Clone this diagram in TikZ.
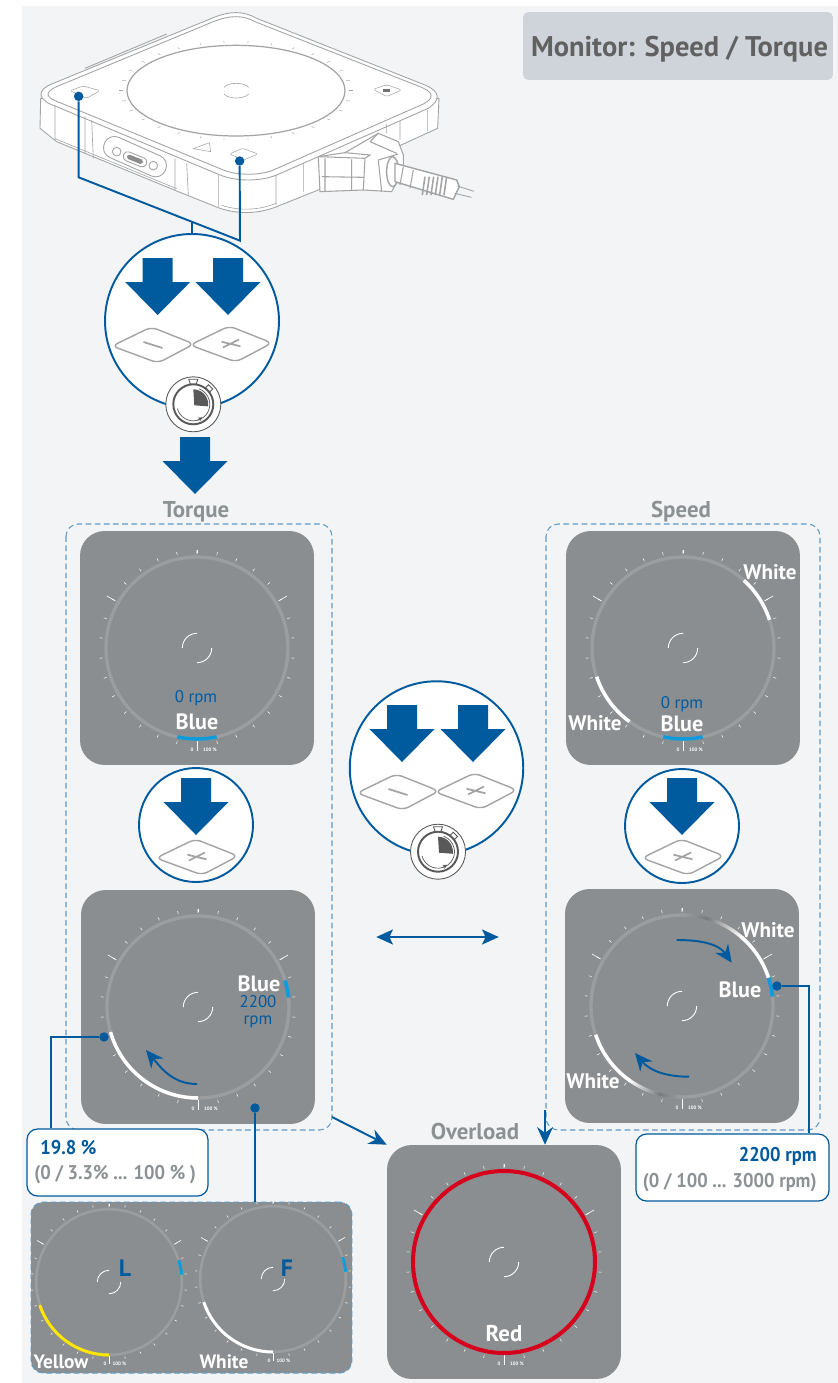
\documentclass[tikz,border=0pt]{standalone}
\usepackage{fontspec}
\setmainfont{PT Sans}
\usepackage{tikz}
\usetikzlibrary{calc,arrows.meta}

\definecolor{bluedark}{HTML}{005A9E}
\definecolor{bluelight}{HTML}{0F9BDC}
\definecolor{zoneblue}{HTML}{5F9CC8}
\definecolor{panelgray}{HTML}{8A8E90}
\definecolor{ringgray}{HTML}{9A9EA1}
\definecolor{fadegray}{HTML}{76787A}
\definecolor{labelgray}{HTML}{8C9194}
\definecolor{pagegray}{HTML}{F3F4F6}
\definecolor{titlegray}{HTML}{CED4DA}
\definecolor{edgegray}{HTML}{A2A4A6}
\definecolor{alarmred}{HTML}{D6001C}
\definecolor{warnyellow}{HTML}{FFE600}

\tikzset{
  panel/.style={fill=panelgray,rounded corners=14pt,minimum size=4.68cm,inner sep=0pt},
  pressdisc/.style={circle,draw=bluedark,line width=1.1pt,fill=white,inner sep=0pt},
  dot/.style={fill=bluedark,circle,inner sep=1.9pt},
  link/.style={draw=bluedark,line width=1.1pt},
  tipped/.style={link,-{Stealth[length=10pt,width=9pt]}},
  ringline/.style={line width=1.9pt},
  huebold/.style={font=\fontsize{12.6}{13}\selectfont\bfseries},
  whitetext/.style={huebold,text=white,inner sep=0pt},
  bluetext/.style={font=\fontsize{9.6}{10.5}\selectfont,text=bluedark,inner sep=0pt},
  headgray/.style={font=\fontsize{13}{14}\selectfont\bfseries,text=labelgray,inner sep=0pt},
  callbold/.style={font=\fontsize{11.3}{12}\selectfont\bfseries\addfontfeature{FakeStretch=0.93},inner sep=0pt},
  callout/.style={draw=bluedark,line width=.7pt,fill=white,rounded corners=6pt,inner sep=0pt},
  zone/.style={draw=zoneblue,dash pattern=on 3.2pt off 2pt,line width=.6pt,rounded corners=7pt},
  tiny/.style={font=\fontsize{2.8}{3}\selectfont\bfseries,text=white,inner sep=0pt},
  keyline/.style={draw=edgegray,line width=.8pt},
  body/.style={draw=edgegray,line width=.5pt},
  fatarrow/.pic={
    \fill[bluedark] (-15,0) -- (15,0) -- (15,24) -- (32.5,24) -- (0,57) -- (-32.5,24) -- (-15,24) -- cycle;
  },
  minuskey/.pic={
    \draw[keyline,rounded corners=3.5pt] (-41,1) -- (-1.7,-18) -- (41,-1) -- (5,18) -- cycle;
    \draw[keyline,line width=1pt] (-9.5,-3) -- (9.5,3);
  },
  pluskey/.pic={
    \draw[keyline,rounded corners=3.5pt] (-41,1) -- (-1.7,-18) -- (41,-1) -- (5,18) -- cycle;
    \draw[keyline,line width=1pt] (-9.5,-2.3) -- (9.5,2.3) (-8,3.5) -- (8,-4.5);
  },
  timer/.pic={
    \draw[draw=black!65,fill=white,line width=.5pt] (0,0) circle (27.5);
    \fill[black!65] (1,1) -- (-90:15) arc[start angle=-90,end angle=8,radius=15] -- cycle;
    \draw[black!65,line width=1.1pt] (0,0) circle (20);
    \draw[black!65,line width=.4pt] (165:16.5) arc[start angle=165,end angle=-70,radius=16.5];
    \draw[black!65,fill=white,line width=.5pt] (-4.5,-25) -- (4.5,-25) -- (3,-20.5) -- (-3,-20.5) -- cycle;
    \draw[black!65,fill=white,line width=.5pt,rotate=-45] (-3,-24.5) rectangle (3,-20.5);
    \draw[black!65,line width=.4pt,-{Stealth[length=2.5pt,width=2.5pt]}] (75:16.5) -- (55:16);
  },
  dial/.pic={
    \draw[ringgray,ringline] (0,0) circle (91);
    \foreach \a in {-78,-66,...,270} {
      \draw[white,line width=.3pt] (\a:95) -- (\a:98);
    }
    \draw[white,line width=.35pt] (-30:94) -- (-30:104) (-150:94) -- (-150:104) (-90:94) -- (-90:98);
    \draw[white,line width=.5pt] (90:93) -- (90:103);
    \draw[white,line width=.5pt] (-90:14.7) arc[start angle=-90,end angle=-180,radius=14.7];
    \draw[white,line width=.5pt] (0:14.7) arc[start angle=0,end angle=90,radius=14.7];
    \node at (-5,102) [tiny] {0};
    \node at (13,102) [tiny] {100 \%};
  }
}

\newcommand{\dialarc}[6][91]{\draw[shift={#2},#5,#6] (#3:#1) arc[start angle=#3,end angle=#4,radius=#1];}
\newcommand{\fadearc}[3]{%
  \foreach \t in {0,...,19} {
    \pgfmathsetmacro{\sa}{#2+\t*(#3-#2)/20}
    \pgfmathsetmacro{\ea}{#2+(\t+1.15)*(#3-#2)/20}
    \pgfmathsetmacro{\p}{\t<8 ? 100-\t*12.5 : 0}
    \pgfmathsetmacro{\q}{\t<8 ? 0 : (\t-7)*8.3}
    \ifdim\q pt>0pt
      \dialarc{#1}{\sa}{\ea}{white!\q!fadegray}{line width=1.9pt}
    \else
      \dialarc{#1}{\sa}{\ea}{ringgray!\p!fadegray}{line width=1.9pt}
    \fi
  }%
}

\begin{document}
\begin{tikzpicture}[x=0.02cm,y=-0.02cm]
  \useasboundingbox (0,0) rectangle (838,1383);
  \fill[pagegray] (22,6) rectangle (838,1383);

  \node (title) at (678,46) [fill=titlegray,rounded corners=3pt,minimum width=6.2cm,minimum height=1.36cm,inner sep=0pt] {};
  \node (titletext) at (679.5,49) [font=\fontsize{16.2}{17}\selectfont\bfseries,text=black!62,inner sep=0pt] {Monitor: Speed / Torque};

  % device, in the scale of a 3x crop
  \begin{scope}[shift={(20,0)},x=0.00667cm,y=-0.00667cm]
    \draw[body,fill=white] (62,295) -- (60,385) -- (110,425) -- (475,575) -- (600,625)
      .. controls (660,645) and (720,640) .. (770,620) -- (890,572) -- (1100,455) -- (1253,385) -- (1257,295) -- cycle;
    \draw[body,line width=.35pt] (105,416) -- (470,566) (605,616) .. controls (660,634) and (720,630) .. (768,610);
    \draw[body,fill=white] (95,252) -- (575,55) .. controls (630,32) and (670,32) .. (710,55) -- (1215,255)
      .. controls (1262,275) and (1262,300) .. (1225,325) -- (770,525) .. controls (720,545) and (650,545) .. (600,525)
      -- (110,320) .. controls (50,300) and (50,270) .. (95,252) -- cycle;
    \draw[body] (105,262) -- (580,65) .. controls (630,45) and (670,45) .. (705,65) -- (1205,262)
      .. controls (1242,278) and (1242,295) .. (1210,312) -- (760,510) .. controls (720,527) and (650,527) .. (610,510)
      -- (120,308) .. controls (75,292) and (75,278) .. (105,262) -- cycle;
    \draw[body] (195,205) -- (440,102);
    \draw[body,line width=.35pt] (105,315) -- (105,420) (195,350) -- (195,460) (215,360) -- (220,475)
      (465,475) -- (465,570) (500,490) -- (505,585) (595,525) -- (595,620) (768,525) -- (768,615)
      (850,490) -- (850,575) (1100,372) -- (1100,400) (1140,362) -- (1140,420) (1222,330) -- (1222,395);
    \draw[body,line width=.7pt] (648,272) ellipse (327 and 136);
    \draw[body,line width=.35pt] (612,262) .. controls (625,246) and (672,246) .. (686,262);
    \draw[body,line width=.35pt] (612,282) .. controls (625,298) and (672,298) .. (686,282);
    \foreach \a in {-84,-72,...,270} {
      \draw[body,line width=.25pt] ($(648,272)+(\a:338 and 144)$) -- ($(648,272)+(\a:350 and 150)$);
    }
    \draw[body,rounded corners=1pt,line width=.3pt] (150,272) -- (190,258) -- (240,272) -- (200,295) -- cycle;
    \draw[body,rounded corners=1pt,line width=.3pt] (628,462) -- (668,445) -- (714,462) -- (672,480) -- cycle;
    \draw[body,rounded corners=1pt,line width=.3pt] (1060,268) -- (1100,254) -- (1145,270) -- (1100,290) -- cycle;
    \fill[black!55] (1090,268) rectangle (1110,276);
    \draw[body,line width=.3pt] (520,446) -- (568,428) -- (572,455) -- cycle;
    \draw[body,rotate around={-24:(345,470)},rounded corners=6pt,line width=.5pt] (245,437) rectangle (445,503);
    \draw[body,line width=.5pt] (290,455) circle (13) (400,497) circle (13);
    \draw[body,rotate around={-22:(345,478)},rounded corners=2.5pt,line width=.5pt] (308,464) rectangle (382,492);
    \fill[black!45,rotate around={-22:(345,478)},rounded corners=1pt] (320,471) rectangle (370,485);
    % plug
    \draw[body,fill=white,line width=.6pt] (895,470) -- (975,458) -- (1075,400) -- (1135,425) -- (1150,465) -- (1150,510)
      -- (1115,575) -- (1030,570) -- (900,575) -- cycle;
    \draw[body,line width=.6pt] (895,470) -- (1035,475) -- (1030,570) (915,475) -- (915,575) (995,478) -- (995,572)
      (905,530) -- (1030,532) (975,458) -- (1050,465) -- (1035,475) (1050,425) -- (1075,400) (1050,425) -- (1130,460)
      (1075,480) -- (1085,575) (1075,480) -- (1135,462);
    \draw[body,fill=white,line width=.8pt] (1118,515) ellipse (18 and 45);
    \draw[body,fill=white,line width=.8pt] (1125,490) -- (1310,540) -- (1318,560) -- (1300,598) -- (1125,545) -- cycle;
    \draw[body,line width=.6pt] (1150,500) -- (1140,555) (1180,510) -- (1170,565);
    \foreach \x in {1215,1228,...,1280} {
      \draw[body,line width=.9pt] (\x,530) -- (\x-8,585);
    }
    \draw[body] (1312,558) -- (1362,574) (1304,580) -- (1354,592);
    \node (dotminus) at (176,289) [dot] {};
    \node (dotplus) at (659,483) [dot] {};
    \coordinate (bendminus) at (176,532);
    \coordinate (bendplus) at (660,722);
  \end{scope}

  % zones
  \draw[zone] (66,524) rectangle (332,1130);
  \draw[zone] (546,524) rectangle (820,1130);

  \node (torquelabel) at (196,512) [headgray] {Torque};
  \node (speedlabel) at (681,512) [headgray] {Speed};
  \node (overloadlabel) at (475,1131) [headgray] {Overload};

  % press discs
  \coordinate (joinbar) at (192,222);
  \node (discstart) at (192,321) [pressdisc,minimum size=3.48cm] {};
  \node (disccentre) at (436.5,768) [pressdisc,minimum size=3.47cm] {};
  \node (disctorque) at (196,825) [pressdisc,minimum size=2.28cm] {};
  \node (discspeed) at (682,826) [pressdisc,minimum size=2.28cm] {};

  \draw[link] (dotminus) to (bendminus) to (bendplus) to (dotplus);
  \draw[link] (joinbar) to (discstart.north);

  \pic at (157.7,258) {fatarrow};
  \pic at (228,258) {fatarrow};
  \pic at (195,437) {fatarrow};
  \pic at (402,705) {fatarrow};
  \pic at (473,705) {fatarrow};
  \pic at (196,778) {fatarrow};
  \pic at (682,778) {fatarrow};

  \pic at (153,345) {minuskey};
  \pic at (231,344) {pluskey};
  \pic at (398,792) {minuskey};
  \pic at (476,791) {pluskey};
  \pic at (197,857) {pluskey};
  \pic at (683,857) {pluskey};

  \pic at (193.3,404.3) {timer};
  \pic at (438,851.7) {timer};

  \node (doubleleft) at (375,937) [inner sep=0pt] {};
  \node (doubleright) at (500,937) [inner sep=0pt] {};
  \draw[link,{Stealth[length=9.5pt,width=8.5pt,inset=2pt]}-{Stealth[length=9.5pt,width=8.5pt,inset=2pt]}] (doubleleft) to (doubleright);

  % dial panels
  \node (torquezero) at (197,648) [panel] {};
  \node (torquerun) at (198,1007) [panel] {};
  \node (speedzero) at (683,648) [panel] {};
  \node (speedrun) at (682,1006) [panel] {};
  \node (overload) at (504,1262) [panel] {};
  \node (loadpanel) at (191.5,1287.5) [fill=panelgray,draw=zoneblue,dash pattern=on 3.2pt off 2pt,line width=.6pt,rounded corners=7pt,minimum width=6.42cm,minimum height=3.42cm,inner sep=0pt] {};

  \pic at (197,648) {dial};
  \pic at (198,1007) {dial};
  \pic at (683,648) {dial};
  \pic at (682,1006) {dial};
  \pic at (504,1262) {dial};
  \begin{scope}[ringline/.style={line width=1.5pt}]
    \pic[scale=.8] at (109,1282) {dial};
    \pic[scale=.8] at (273,1279) {dial};
  \end{scope}

  % coloured stretches of the rings
  \dialarc{(197,648)}{77.5}{102.5}{bluelight}{line width=2pt}
  \dialarc{(198,1007)}{90}{164}{white}{line width=2pt}
  \dialarc{(198,1007)}{-17}{-6}{bluelight}{line width=2.2pt}
  \dialarc{(683,648)}{77.5}{102.5}{bluelight}{line width=2pt}
  \dialarc{(683,648)}{-48}{-18}{white}{line width=2pt}
  \dialarc{(683,648)}{126}{161.6}{white}{line width=2pt}
  \fadearc{(682,1006)}{-90}{-48}
  \fadearc{(682,1006)}{90}{126}
  \dialarc{(682,1006)}{-49}{-18}{white}{line width=2pt}
  \dialarc{(682,1006)}{125}{161.6}{white}{line width=2pt}
  \dialarc{(682,1006)}{-18}{-6}{bluelight}{line width=2.2pt}
  \dialarc{(504,1262)}{0}{360}{alarmred}{line width=2.3pt}
  \dialarc[73]{(109,1282)}{90}{161.5}{warnyellow}{line width=1.7pt}
  \dialarc[73]{(109,1282)}{-17.4}{-5.8}{bluelight}{line width=1.7pt}
  \dialarc[73]{(273,1279)}{90}{161.5}{white}{line width=1.7pt}
  \dialarc[73]{(273,1279)}{-17.4}{-5.8}{bluelight}{line width=1.7pt}

  % labels on the dials
  \node (zerotorque) at (196,698) [bluetext] {0 rpm};
  \node (bluetorque) at (197,722) [whitetext] {Blue};
  \node (bluerun) at (259,984) [whitetext] {Blue};
  \node (rpmrun) at (258,1012) [bluetext,align=center] {2200\\[-1pt]rpm};
  \node (zerospeed) at (682,704) [bluetext] {0 rpm};
  \node (bluespeed) at (682,724) [whitetext] {Blue};
  \node (whitetop) at (770,572) [whitetext,font=\fontsize{12}{13}\selectfont\bfseries] {White};
  \node (whitelow) at (595,723) [whitetext,font=\fontsize{12}{13}\selectfont\bfseries] {White};
  \node (bluefast) at (740,990) [whitetext] {Blue};
  \node (whitefast) at (768,930) [whitetext,font=\fontsize{12}{13}\selectfont\bfseries] {White};
  \node (whiteslow) at (593,1081) [whitetext,font=\fontsize{12}{13}\selectfont\bfseries] {White};
  \node (redlabel) at (504,1334) [whitetext,font=\fontsize{13}{14}\selectfont\bfseries] {Red};
  \node (yellowlabel) at (61,1362) [whitetext,font=\fontsize{11}{12}\selectfont\bfseries] {Yellow};
  \node (whiteload) at (224,1362) [whitetext,font=\fontsize{11}{12}\selectfont\bfseries] {White};
  \node (letterl) at (125,1268) [font=\fontsize{13.5}{14}\selectfont\bfseries,text=bluedark,inner sep=0pt] {L};
  \node (letterf) at (287,1268) [font=\fontsize{13.5}{14}\selectfont\bfseries,text=bluedark,inner sep=0pt] {F};

  % turning arrows
  \coordinate (turnastart) at (197,1084);
  \coordinate (turnaend) at (146,1050);
  \coordinate (turnbstart) at (676.7,940);
  \coordinate (turnbend) at (731.7,962.7);
  \coordinate (turncstart) at (689,1076.7);
  \coordinate (turncend) at (635,1053);
  \draw[tipped] (turnastart) to [out=180,in=-50] (turnaend);
  \draw[tipped] (turnbstart) to [out=0,in=125] (turnbend);
  \draw[tipped] (turncstart) to [out=180,in=-50] (turncend);

  % callouts
  \node (calltorque) at (117.5,1162.5) [callout,minimum width=3.62cm,minimum height=1.34cm] {};
  \node (callspeed) at (732.5,1167.5) [callout,minimum width=3.86cm,minimum height=1.34cm] {};
  \node (torquevalue) at (40,1148) [callbold,text=bluedark,anchor=west] {19.8 \%};
  \node (torquerange) at (34,1175) [callbold,text=labelgray,anchor=west] {(0 / 3.3\% ... 100 \% )};
  \node (speedvalue) at (817,1156) [callbold,text=bluedark,anchor=east] {2200 rpm};
  \node (speedrange) at (817,1183) [callbold,text=labelgray,anchor=east] {(0 / 100 ... 3000 rpm)};

  \node (dottorque) at (104,1037) [dot] {};
  \node (dotload) at (255,1108) [dot] {};
  \node (dotspeed) at (777,986) [dot] {};
  \coordinate (bendtorque) at (51,1037);
  \coordinate (bendspeed) at (809,986);
  \coordinate (zonecorner) at (332,1117);
  \coordinate (zonedrop) at (545,1110);

  \draw[link] (dottorque) to (bendtorque) to (bendtorque |- calltorque.north);
  \draw[link] (dotload) to (dotload |- loadpanel.north);
  \draw[link] (dotspeed) to (bendspeed) to (bendspeed |- callspeed.north);
  \draw[tipped] (zonecorner) to (overload.north west);
  \draw[tipped] (zonedrop) to (zonedrop |- overload.north);
\end{tikzpicture}
\end{document}
